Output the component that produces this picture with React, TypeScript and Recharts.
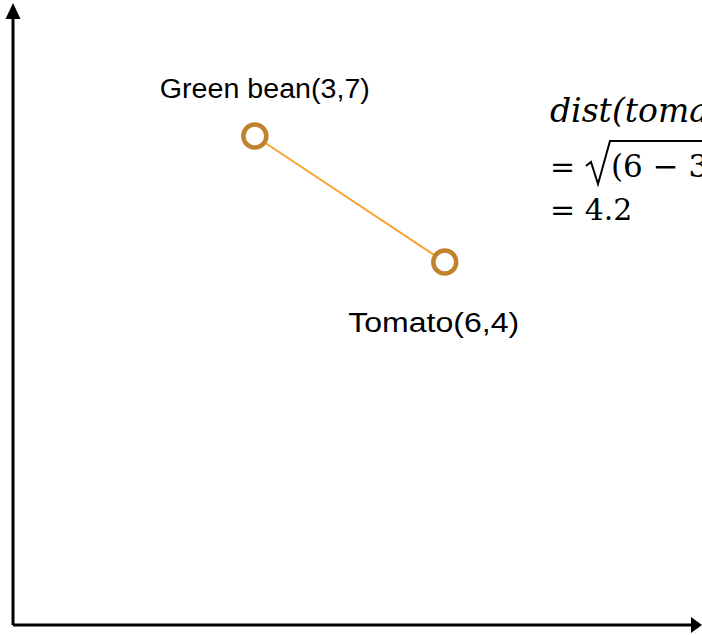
import { ScatterChart, Scatter, XAxis, YAxis, ReferenceDot, ReferenceLine, Customized } from "recharts";

const names = ["Green bean", "Tomato"];
const xValues = [3, 6];
const yValues = [7, 4];

const distLine = "dist(tomato, green bean)";
const radicand = "(6 − 3)² + (4 − 7)²";
const resultLine = "= 4.2";

const data = names.map((name, i) => ({ name, x: xValues[i], y: yValues[i] }));

const X_DOMAIN: [number, number] = [-0.82, 10];
const Y_DOMAIN: [number, number] = [-4.64, 10];

// label sits above the first point, below the second
const labelStyle: Record<string, { dx: number; dy: number; len: number }> = {
  "Green bean": { dx: 10, dy: -38, len: 210 },
  Tomato: { dx: -11, dy: 70, len: 171 },
};

const PointShape = (props: any) => {
  const { cx, cy, payload } = props;
  const st = labelStyle[payload.name] || { dx: 0, dy: -30, len: undefined };
  return (
    <g>
      <circle cx={cx} cy={cy} r={11.5} fill="#fff" stroke="#c0822d" strokeWidth={4.5} />
      <text
        x={cx + st.dx}
        y={cy + st.dy}
        textAnchor="middle"
        fontFamily="Liberation Sans, Arial, sans-serif"
        fontSize={27}
        fill="#000"
        textLength={st.len}
        lengthAdjust="spacingAndGlyphs"
      >
        {`${payload.name}(${payload.x},${payload.y})`}
      </text>
    </g>
  );
};

const ArrowUp = (props: any) => {
  const { cx, cy } = props;
  return <path d={`M${cx},${cy - 7} L${cx + 7.5},${cy + 9} L${cx - 7.5},${cy + 9} Z`} fill="#000" />;
};

const ArrowRight = (props: any) => {
  const { cx, cy } = props;
  return <path d={`M${cx + 4},${cy} L${cx - 7},${cy - 8} L${cx - 7},${cy + 8} Z`} fill="#000" />;
};

const Equation = () => (
  <g fontFamily="DejaVu Serif, Liberation Serif, serif" fill="#000">
    <text x={550} y={122} fontSize={33} fontStyle="italic">
      {distLine}
    </text>
    <text x={550} y={177} fontSize={30}>
      =
    </text>
    {/* radical sign */}
    <path
      d="M586,166 L591,162 L598,184 L610,141 L702,141"
      fill="none"
      stroke="#000"
      strokeWidth={2}
      strokeLinejoin="miter"
    />
    <text x={611} y={177} fontSize={31}>
      {radicand}
    </text>
    <text x={550} y={220} fontSize={30}>
      {resultLine}
    </text>
  </g>
);

const App = () => {
  return (
    <div style={{ position: "absolute", left: 0, top: 0, width: 702, height: 635, overflow: "hidden", background: "#fff" }}>
      <ScatterChart width={702} height={635} margin={{ top: 10, right: 4, bottom: 10, left: 13 }}>
        <XAxis type="number" dataKey="x" domain={X_DOMAIN} allowDataOverflow hide />
        <YAxis type="number" dataKey="y" domain={Y_DOMAIN} allowDataOverflow hide />
        <ReferenceLine
          segment={[
            { x: X_DOMAIN[0], y: Y_DOMAIN[0] },
            { x: X_DOMAIN[0], y: Y_DOMAIN[1] },
          ]}
          stroke="#000"
          strokeWidth={3}
          ifOverflow="visible"
        />
        <ReferenceLine
          segment={[
            { x: X_DOMAIN[0], y: Y_DOMAIN[0] },
            { x: X_DOMAIN[1], y: Y_DOMAIN[0] },
          ]}
          stroke="#000"
          strokeWidth={3}
          ifOverflow="visible"
        />
        <ReferenceDot x={X_DOMAIN[0]} y={Y_DOMAIN[1]} r={0} ifOverflow="visible" shape={ArrowUp} />
        <ReferenceDot x={X_DOMAIN[1]} y={Y_DOMAIN[0]} r={0} ifOverflow="visible" shape={ArrowRight} />
        <Scatter
          data={data}
          line={{ stroke: "#f7a32e", strokeWidth: 2 }}
          lineType="joint"
          shape={PointShape}
          isAnimationActive={false}
        />
        <Customized component={Equation} />
      </ScatterChart>
    </div>
  );
};

export default App;
